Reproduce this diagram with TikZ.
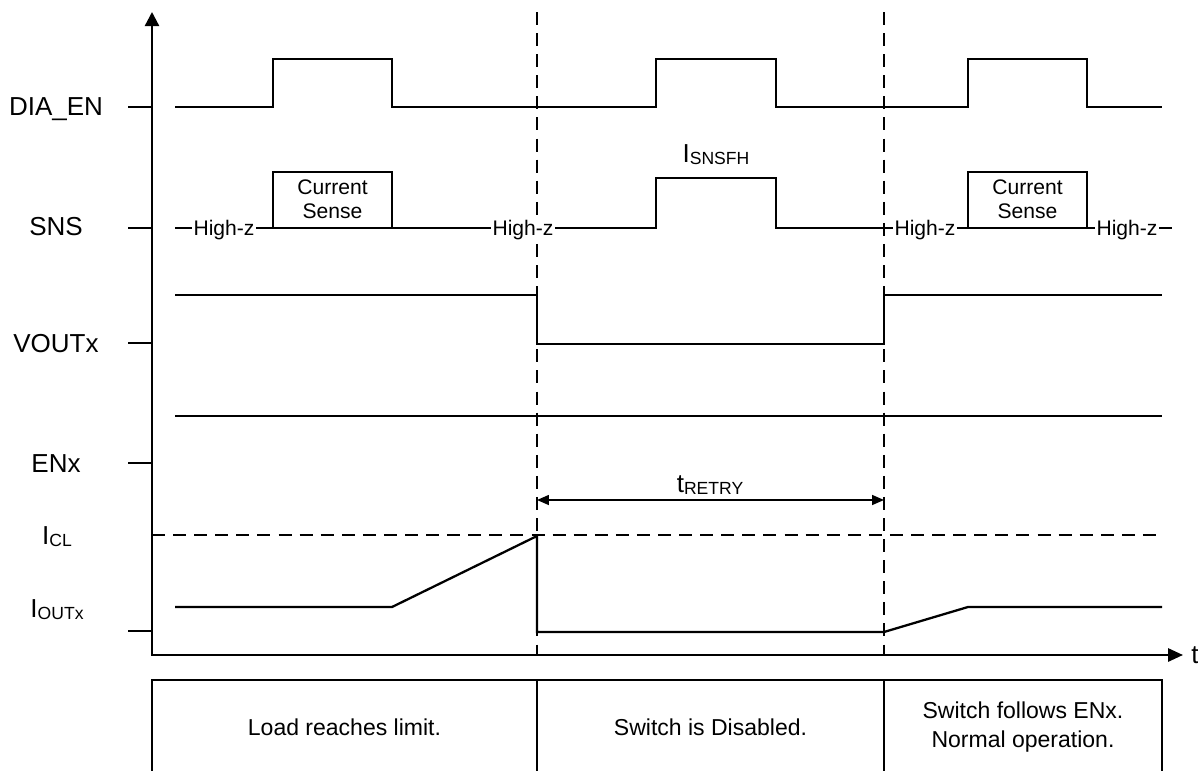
\documentclass[tikz,border=0pt]{standalone}
\usepackage{fontspec}
\setmainfont{Liberation Sans}
\usetikzlibrary{arrows.meta}
\newcommand\lowtxt[1]{\raisebox{-1.5pt}{\fontsize{10}{10}\selectfont #1}}
\begin{document}
\begin{tikzpicture}[x=0.02cm,y=-0.02cm,
  sig/.style={line width=1.3pt},
  axisline/.style={line width=1.3pt},
  vdash/.style={line width=0.9pt, dash pattern=on 7.4pt off 4.6pt},
  lab/.style={font=\fontsize{14.8}{17}\selectfont, anchor=base, inner sep=0pt},
  hz/.style={font=\fontsize{12}{13.7}\selectfont, anchor=base, fill=white, inner xsep=1pt, inner ysep=0.5pt},
  cs/.style={font=\fontsize{12}{13.7}\selectfont, align=center, inner sep=0pt},
  boxtxt/.style={font=\fontsize{13.1}{16.5}\selectfont, align=center, inner sep=0pt},
  dimarrow/.style={line width=0.8pt, {Triangle[length=6.8pt,width=5.7pt]}-{Triangle[length=6.8pt,width=5.7pt]}}
]
\useasboundingbox (0,0) rectangle (1198,771);

% coordinates
\coordinate (ytop) at (152,12);
\coordinate (origin) at (152,655);
\coordinate (xend) at (1183,655);
\coordinate (d1top) at (537,12);
\coordinate (d1bot) at (537,655);
\coordinate (d2top) at (884,12);
\coordinate (d2bot) at (884,655);
\coordinate (iclL) at (152,535);
\coordinate (iclR) at (1162,535);
\coordinate (r1) at (537,500);
\coordinate (r2) at (884,500);

% axes
\draw[axisline, {Triangle[length=8pt,width=8pt]}-{Triangle[length=8.5pt,width=7.5pt]}] (ytop) -- (origin) -- (xend);
\node[lab, anchor=base west] (tlab) at (1191,663) {t};

% ticks
\foreach \yy in {107,228,343,463,631}
  \draw[axisline] (128,\yy) -- (152,\yy);

% labels
\node[lab] (ldia) at (56,115) {DIA\_EN};
\node[lab] (lsns) at (56,235) {SNS};
\node[lab] (lvout) at (56,352) {VOUTx};
\node[lab] (lenx) at (56,472) {ENx};
\node[lab] (licl) at (57,544) {I\lowtxt{CL}};
\node[lab] (liout) at (57,617) {I\lowtxt{OUTx}};

% dashed verticals and I_CL level
\draw[vdash] (d1top) -- (d1bot);
\draw[vdash] (d2top) -- (d2bot);
\draw[vdash] (iclL) -- (iclR);

% DIA_EN
\draw[sig] (175,107) -- (273,107) -- (273,59) -- (392,59) -- (392,107) -- (656,107) -- (656,59) -- (776,59) -- (776,107)
  -- (968,107) -- (968,59) -- (1087,59) -- (1087,107) -- (1162,107);

% SNS
\draw[sig] (175,228) -- (656,228) -- (656,178) -- (776,178) -- (776,228) -- (1172,228);
\draw[sig] (273,228) rectangle (392,172);
\draw[sig] (968,228) rectangle (1087,172);
\node[cs] (cs1) at (332.5,199) {Current\\Sense};
\node[cs] (cs2) at (1027.5,199) {Current\\Sense};
\node[hz] (hz1) at (224,235) {High-z};
\node[hz] (hz2) at (523,235) {High-z};
\node[hz] (hz3) at (925,235) {High-z};
\node[hz] (hz4) at (1127,235) {High-z};
\node[lab] (isnsfh) at (716,162) {I\lowtxt{SNSFH}};

% VOUTx
\draw[sig] (175,295) -- (537,295) -- (537,344) -- (884,344) -- (884,295) -- (1162,295);

% ENx
\draw[sig] (175,416) -- (1162,416);

% I_OUTx
\draw[sig] (175,607) -- (392,607) -- (537,536) -- (537,632) -- (884,632) -- (968,607) -- (1162,607);

% t_RETRY
\draw[dimarrow] (r1) -- (r2);
\node[lab] (tretry) at (710,492) {t\lowtxt{RETRY}};

% bottom boxes
\draw[axisline] (152,780) -- (152,680) -- (1162,680) -- (1162,780);
\draw[axisline] (537,680) -- (537,780);
\draw[axisline] (884,680) -- (884,780);
\node[boxtxt] (b1) at (344.5,727) {Load reaches limit.};
\node[boxtxt] (b2) at (710.5,727) {Switch is Disabled.};
\node[boxtxt] (b3) at (1023,727) {Switch follows ENx.\\Normal operation.};
\end{tikzpicture}
\end{document}
